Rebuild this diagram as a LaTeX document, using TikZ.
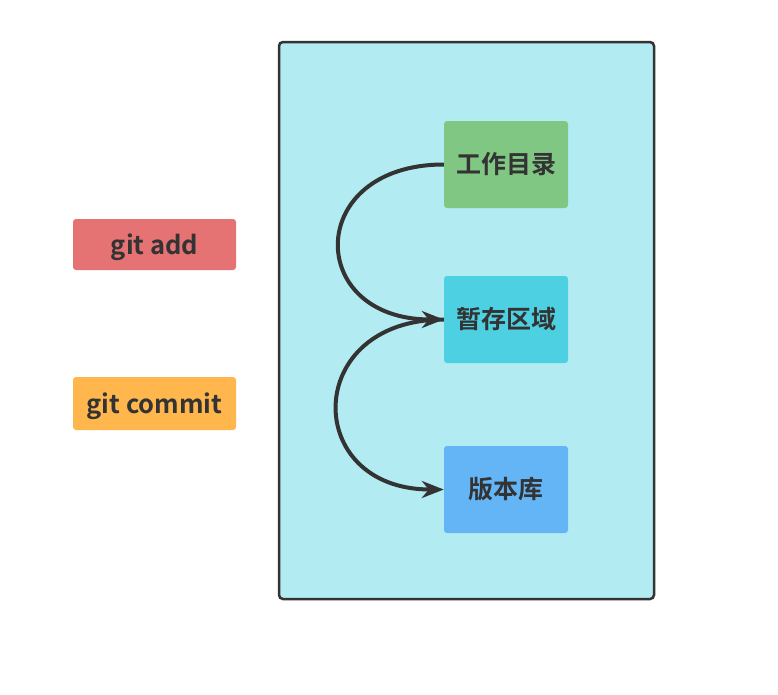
\documentclass[tikz,border=0pt]{standalone}
\usepackage{fontspec}
\setmainfont{Noto Sans CJK SC}[BoldFont={* Bold}]
\usetikzlibrary{arrows.meta}
\definecolor{txt}{HTML}{333333}
\definecolor{panel}{HTML}{B2EBF2}
\definecolor{cwork}{HTML}{81C784}
\definecolor{cstage}{HTML}{4DD0E1}
\definecolor{crepo}{HTML}{64B5F6}
\definecolor{cadd}{HTML}{E57373}
\definecolor{ccommit}{HTML}{FFB74D}
\begin{document}
\begin{tikzpicture}[x=1pt,y=-1pt,
  box/.style={rounded corners=3pt,inner sep=0pt,text=txt,font=\fontsize{25}{27}\selectfont\bfseries},
  lbox/.style={box,font=\fontsize{25.5}{27}\selectfont\bfseries,text height=24pt,text depth=4pt},
  flow/.style={line width=4pt,draw=txt,-{Stealth[length=22pt,width=17pt,inset=7pt]}}]
\useasboundingbox (0,0) rectangle (778,694);
\node[draw=txt,line width=2.5pt,fill=panel,rounded corners=4pt,minimum width=375pt,minimum height=557pt,inner sep=0pt] (panel) at (466.5,320.5) {};
\node[box,fill=cwork,minimum width=124pt,minimum height=87pt] (work) at (506,164.5) {工作目录};
\node[box,fill=cstage,minimum width=124pt,minimum height=87pt] (stage) at (506,319.5) {暂存区域};
\node[box,fill=crepo,minimum width=124pt,minimum height=87pt] (repo) at (506,489.5) {版本库};
\node[lbox,fill=cadd,minimum width=163pt,minimum height=51pt] (add) at (154.5,244.5) {git add};
\node[lbox,fill=ccommit,minimum width=163pt,minimum height=53pt] (commit) at (154.5,403.5) {git commit};
\draw[flow] (work.west) .. controls +(-139,0) and +(-139,0) .. (stage.west);
\draw[flow] (stage.west) .. controls +(-142,0) and +(-142,0) .. (repo.west);
\end{tikzpicture}
\end{document}
